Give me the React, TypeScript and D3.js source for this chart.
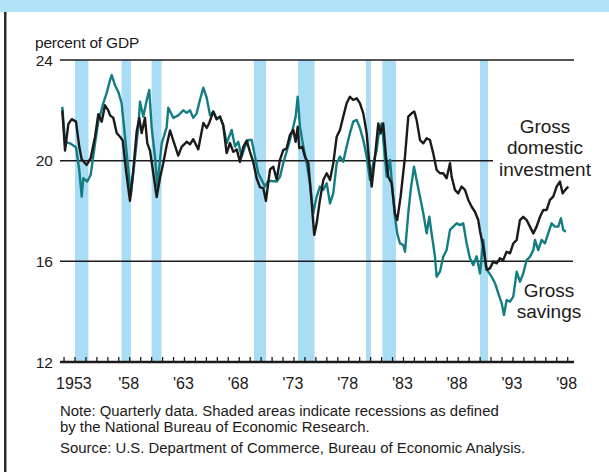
import React from "react";
import * as d3 from "d3";

const investYears = [1952.34,1952.59,1952.89,1953.2,1953.59,1953.89,1954.11,1954.57,1954.93,1955.33,1955.63,1955.94,1956.24,1956.54,1956.7,1957.0,1957.31,1957.61,1957.86,1958.16,1958.52,1958.82,1959.13,1959.37,1959.59,1959.89,1960.1,1960.35,1960.65,1960.96,1961.26,1961.56,1961.87,1962.18,1962.48,1962.93,1963.24,1963.7,1964.0,1964.3,1964.76,1965.22,1965.53,1965.76,1966.13,1966.44,1966.74,1967.04,1967.35,1967.65,1967.96,1968.27,1968.57,1968.87,1969.18,1969.48,1969.78,1970.09,1970.39,1970.7,1970.94,1971.31,1971.61,1971.92,1972.22,1972.52,1972.83,1973.13,1973.44,1973.65,1973.84,1973.98,1974.26,1974.5,1974.81,1975.12,1975.35,1975.57,1975.87,1976.18,1976.49,1976.79,1977.09,1977.4,1977.7,1978.0,1978.31,1978.61,1978.91,1979.23,1979.53,1979.83,1980.14,1980.35,1980.6,1980.9,1981.2,1981.42,1981.65,1981.9,1982.11,1982.42,1982.72,1982.93,1983.24,1983.64,1983.94,1984.25,1984.49,1984.7,1985.01,1985.31,1985.62,1985.92,1986.22,1986.53,1986.83,1987.13,1987.44,1987.75,1987.9,1988.2,1988.5,1988.81,1989.12,1989.42,1989.73,1990.03,1990.33,1990.49,1990.79,1991.1,1991.4,1991.7,1992.01,1992.31,1992.61,1992.92,1993.23,1993.53,1993.84,1994.14,1994.44,1994.75,1995.05,1995.36,1995.66,1995.97,1996.27,1996.58,1996.88,1997.18,1997.49,1997.79,1998.04,1998.28,1998.55];
const investValues = [22.0,20.4,21.45,21.65,21.55,20.55,20.05,19.83,20.1,20.95,21.85,21.55,22.2,22.0,21.8,21.7,21.1,20.95,20.8,19.6,18.4,19.6,21.15,21.7,21.1,21.7,20.7,20.4,19.5,18.55,19.3,19.9,20.6,21.2,20.8,20.2,20.55,20.75,20.65,20.85,20.45,21.5,21.3,21.5,21.95,21.65,21.75,21.4,20.3,20.7,20.35,20.45,19.95,20.55,20.8,20.35,19.95,19.3,18.95,18.9,18.4,19.65,19.76,19.25,20.03,20.42,20.49,21.02,21.22,20.75,21.35,20.5,20.55,20.16,19.9,18.3,17.05,17.5,18.44,19.23,19.5,19.23,19.9,20.95,21.22,21.75,22.28,22.54,22.41,22.48,22.28,21.88,21.09,20.03,18.97,20.16,21.48,21.09,21.48,20.16,19.36,19.1,17.91,17.64,18.57,20.16,21.75,21.88,21.95,21.62,20.82,20.69,20.89,20.82,20.29,19.63,19.5,19.5,19.3,19.9,19.36,18.84,18.7,18.97,18.84,18.44,18.17,17.97,17.64,17.2,16.58,15.66,15.72,15.99,15.92,16.12,16.05,16.38,16.32,16.71,16.85,17.64,17.77,17.64,17.38,17.11,17.38,17.77,18.04,18.04,18.44,18.57,18.97,19.17,18.7,18.84,18.97];

const savingsYears = [1952.34,1952.59,1953.04,1953.59,1953.89,1954.11,1954.26,1954.62,1954.93,1955.33,1955.63,1956.08,1956.39,1956.7,1956.85,1957.15,1957.45,1957.76,1958.07,1958.37,1958.59,1958.98,1959.28,1959.44,1959.74,1960.05,1960.28,1960.5,1960.81,1961.02,1961.42,1961.87,1962.02,1962.48,1962.93,1963.39,1963.7,1964.0,1964.3,1964.61,1964.91,1965.22,1965.53,1965.83,1966.13,1966.44,1966.74,1967.04,1967.35,1967.81,1968.11,1968.41,1968.72,1969.02,1969.33,1969.64,1969.94,1970.24,1970.55,1970.85,1971.15,1971.92,1972.22,1972.52,1972.83,1973.13,1973.44,1973.65,1973.84,1974.05,1974.35,1974.66,1974.96,1975.26,1975.57,1975.87,1976.18,1976.49,1976.79,1977.09,1977.4,1977.7,1978.0,1978.31,1978.61,1978.91,1979.23,1979.53,1979.83,1980.14,1980.44,1980.74,1981.05,1981.2,1981.51,1981.65,1981.97,1982.27,1982.42,1982.72,1982.93,1983.18,1983.48,1983.64,1983.94,1984.16,1984.46,1984.7,1985.01,1985.31,1985.62,1985.86,1986.07,1986.38,1986.53,1986.83,1987.13,1987.44,1987.75,1988.05,1988.36,1988.66,1988.96,1989.27,1989.57,1989.88,1990.18,1990.49,1990.79,1991.03,1991.24,1991.55,1991.86,1992.16,1992.47,1992.68,1992.92,1993.23,1993.53,1993.84,1994.14,1994.44,1994.75,1995.05,1995.36,1995.51,1995.81,1996.12,1996.42,1996.72,1997.03,1997.33,1997.64,1997.88,1998.09,1998.34];
const savingsValues = [22.14,20.75,20.69,20.53,19.63,18.57,19.3,19.17,19.43,20.69,21.55,22.28,22.68,23.2,23.4,23.0,22.74,22.28,20.95,19.63,18.6,20.13,21.32,22.34,21.75,22.41,22.81,21.32,20.13,18.97,20.69,21.32,22.1,21.7,21.8,22.0,21.9,22.0,21.7,21.88,22.41,22.9,22.5,21.8,21.95,21.65,21.75,21.4,20.69,21.22,20.56,20.75,20.16,20.56,20.82,20.82,20.16,19.5,19.23,18.97,19.2,19.17,19.36,19.9,20.36,20.82,21.35,21.75,22.54,21.35,20.56,19.9,19.1,17.91,18.57,18.97,18.84,19.1,18.3,18.7,19.9,20.16,19.96,20.56,21.09,21.55,21.62,21.29,20.82,20.16,19.23,19.9,20.42,20.95,21.48,20.89,19.36,20.03,19.23,17.77,17.11,16.71,16.65,16.38,17.91,18.84,19.76,19.23,18.57,17.91,17.11,17.77,17.11,16.18,15.39,15.59,16.18,16.45,17.25,17.38,17.51,17.44,17.51,16.71,16.12,15.85,16.2,15.52,16.85,15.79,15.59,15.39,15.13,14.73,14.34,13.87,14.46,14.4,14.6,15.59,15.19,15.52,16.05,16.18,16.45,16.85,16.45,16.85,16.71,17.11,17.51,17.38,17.38,17.71,17.25,17.18];

const recessionStarts = [1953.5, 1957.75, 1960.49, 1969.85, 1973.87, 1980.08, 1981.58, 1990.49];
const recessionEnds = [1954.73, 1958.61, 1961.4, 1970.94, 1975.38, 1980.53, 1982.81, 1991.22];

const yTicks = [24, 20, 16, 12];
const xLabelYears = [1953, 1958, 1963, 1968, 1973, 1978, 1983, 1988, 1993, 1998];
const xLabels = ["1953", "'58", "'63", "'68", "'73", "'78", "'83", "'88", "'93", "'98"];

const noteLines = [
  "Note: Quarterly data. Shaded areas indicate recessions as defined",
  "by the National Bureau of Economic Research.",
  "Source: U.S. Department of Commerce, Bureau of Economic Analysis.",
];

const W = 609, H = 472;
const FONT = "'Liberation Sans', Arial, Helvetica, sans-serif";
const BLUE = "#a9ddf5";
const TEAL = "#137d82";
const INK = "#1c1a1a";

export default function App() {
  const x = d3.scaleLinear().domain([1953.5, 1990.49]).range([75, 480]);
  const y = d3.scaleLinear().domain([12, 24]).range([362, 60]);
  const x0 = 60, x1 = 574;

  const invest = investYears.map((t, i) => [t, investValues[i]] as [number, number]);
  const savings = savingsYears.map((t, i) => [t, savingsValues[i]] as [number, number]);
  const line = d3.line<[number, number]>().x(d => x(d[0])).y(d => y(d[1])).curve(d3.curveLinear);

  const tickYears = d3.range(1952.5, 1999, 1);

  const gridEnd: Record<number, number> = { 24: x1, 20: 493, 16: 573 };

  return (
    <div style={{ position: "absolute", left: 0, top: 0 }}>
      <svg width={W} height={H} style={{ display: "block", background: "#fff" }} fontFamily={FONT}>
        <rect x={0} y={0} width={W} height={12} fill="#b2e2f7" />
        <rect x={4} y={12} width={2.5} height={H - 12} fill="#2a2a2a" />

        {recessionStarts.map((s, i) => (
          <rect key={"r" + i} x={x(s)} y={y(24)} width={x(recessionEnds[i]) - x(s)} height={y(12) - y(24)} fill={BLUE} />
        ))}

        {yTicks.filter(v => v !== 12).map(v => (
          <line key={"g" + v} x1={x0} x2={gridEnd[v]} y1={y(v)} y2={y(v)} stroke={INK} strokeWidth={1.5} />
        ))}

        {yTicks.map(v => (
          <text key={"yl" + v} x={53} y={y(v) + 5.5} textAnchor="end" fontSize={15.5} fill={INK}>{v}</text>
        ))}

        <text x={35} y={48} fontSize={15.5} fill={INK} letterSpacing={-0.2}>percent of GDP</text>

        <path d={line(savings) || ""} fill="none" stroke={TEAL} strokeWidth={2.4} strokeLinejoin="round" />
        <path d={line(invest) || ""} fill="none" stroke={INK} strokeWidth={2.4} strokeLinejoin="round" />

        <line x1={x0} x2={x1} y1={y(12)} y2={y(12)} stroke={INK} strokeWidth={2.5} />
        {tickYears.map(t => (
          <line key={"t" + t} x1={x(t)} x2={x(t)} y1={y(12)} y2={y(12) - 5} stroke={INK} strokeWidth={1.3} />
        ))}

        {xLabelYears.map((yr, i) => (
          <text key={"xl" + yr} x={x(yr + 0.4)} y={389} textAnchor="middle" fontSize={16} fill={INK}>{xLabels[i]}</text>
        ))}

        <text x={545} y={132.5} textAnchor="middle" fontSize={19} fill={INK}>Gross</text>
        <text x={545} y={154} textAnchor="middle" fontSize={19} fill={INK}>domestic</text>
        <text x={545} y={176} textAnchor="middle" fontSize={19} fill={INK}>investment</text>
        <text x={549} y={297} textAnchor="middle" fontSize={19} fill={INK}>Gross</text>
        <text x={549} y={318} textAnchor="middle" fontSize={19} fill={INK}>savings</text>

        {noteLines.map((s, i) => (
          <text key={"n" + i} x={60} y={[416, 432, 453][i]} fontSize={14.9} fill={INK}>{s}</text>
        ))}
      </svg>
    </div>
  );
}
